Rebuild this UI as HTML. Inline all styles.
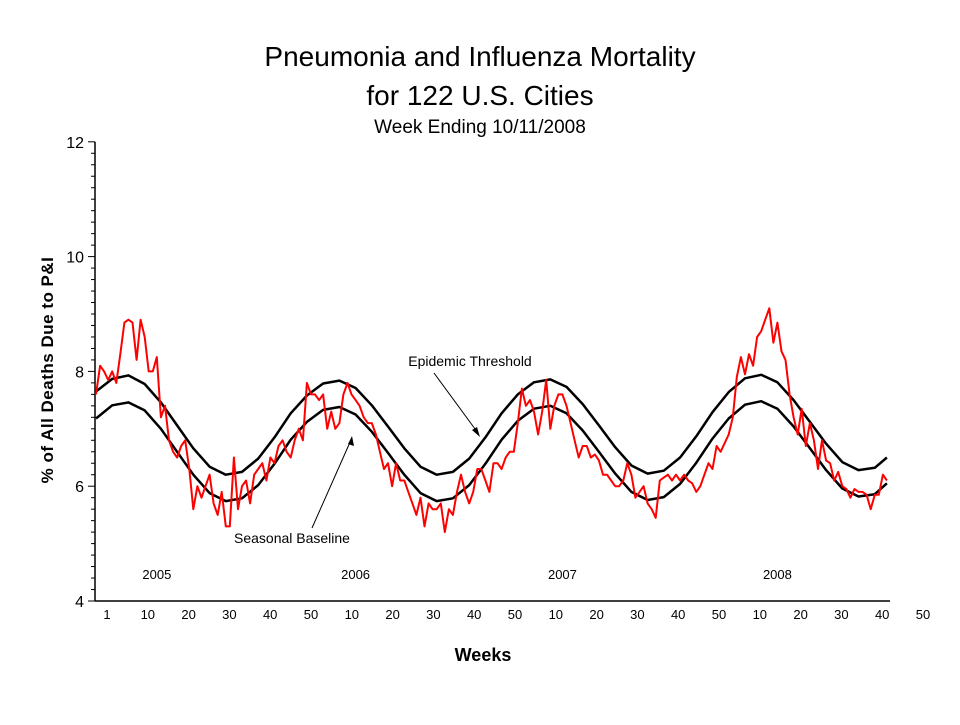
<!DOCTYPE html>
<html><head><meta charset="utf-8"><style>
body{margin:0;background:#fff;}
svg text{font-family:"Liberation Sans",Arial,sans-serif;}
</style></head><body>
<svg id="chart" width="960" height="720" xmlns="http://www.w3.org/2000/svg">
<rect width="960" height="720" fill="#fff"/>
<text x="480" y="66" font-size="28" text-anchor="middle">Pneumonia and Influenza Mortality</text>
<text x="480" y="105" font-size="28" text-anchor="middle">for 122 U.S. Cities</text>
<text x="480" y="133" font-size="19" text-anchor="middle">Week Ending 10/11/2008</text>
<text transform="translate(53,370) rotate(-90)" font-size="17" font-weight="bold" text-anchor="middle" letter-spacing="0.5">% of All Deaths Due to P&amp;I</text>
<text x="483" y="661" font-size="18" font-weight="bold" text-anchor="middle">Weeks</text>
<g id="axes"></g>
<g id="series"></g>
<text x="470" y="366" font-size="14" text-anchor="middle">Epidemic Threshold</text>
<line x1="434" y1="373" x2="478" y2="433" stroke="#000" stroke-width="1"/>
<polygon points="480,437 472,430 477,427" fill="#000"/>
<text x="292" y="543" font-size="14" text-anchor="middle">Seasonal Baseline</text>
<line x1="312" y1="528" x2="351" y2="440" stroke="#000" stroke-width="1"/>
<polygon points="352,436 354,446 348,444" fill="#000"/>
</svg>
<script>
const yTicks = [4, 6, 8, 10, 12];
const xTickLabels = ["1","10","20","30","40","50","10","20","30","40","50","10","20","30","40","50","10","20","30","40","50"];
const yearLabels = ["2005","2006","2007","2008"];
const yearLabelWeek = [15, 64, 115, 168];
const pi = [
7.6,8.1,8.0,7.85,8.0,7.8,8.3,8.85,8.9,8.85,8.2,8.9,8.6,8.0,8.0,8.25,7.2,7.4,6.8,6.6,6.5,6.7,6.8,6.3,5.6,6.0,5.8,6.0,6.2,5.7,5.5,5.9,5.3,5.3,6.5,5.6,6.0,6.1,5.7,6.2,6.3,6.4,6.1,6.5,6.4,6.7,6.8,6.6,6.5,6.8,7.0,6.8,
7.8,7.6,7.6,7.5,7.6,7.0,7.3,7.0,7.1,7.6,7.8,7.6,7.5,7.4,7.2,7.1,7.1,6.9,6.6,6.3,6.4,6.0,6.4,6.1,6.1,5.9,5.7,5.5,5.8,5.3,5.7,5.6,5.6,5.7,5.2,5.6,5.5,5.9,6.2,5.9,5.7,5.9,6.3,6.3,6.1,5.9,6.4,6.4,6.3,6.5,6.6,6.6,
7.1,7.7,7.4,7.5,7.3,6.9,7.3,7.85,7.0,7.4,7.6,7.6,7.4,7.1,6.8,6.5,6.7,6.7,6.5,6.55,6.45,6.2,6.2,6.1,6.0,6.0,6.1,6.4,6.2,5.8,5.9,6.0,5.7,5.6,5.45,6.1,6.15,6.2,6.1,6.2,6.1,6.2,6.1,6.05,5.9,6.0,6.2,6.4,6.3,6.7,6.6,6.75,
6.9,7.2,7.9,8.25,7.95,8.3,8.1,8.6,8.7,8.9,9.1,8.5,8.85,8.35,8.2,7.6,7.2,6.9,7.35,6.7,7.1,6.8,6.3,6.8,6.45,6.4,6.1,6.25,6.0,5.95,5.8,5.95,5.9,5.9,5.85,5.6,5.85,5.85,6.2,6.1];
const baseWeeks = [0,4,8,12,16,20,24,28,32,36,40,44,48,52,56,60,64,68,72,76,80,84,88,92,96,100,104,108,112,116,120,124,128,132,136,140,144,148,152,156,160,164,168,172,176,180,184,188,192,195];
const baseline = [7.18,7.41,7.46,7.32,7.00,6.6,6.2,5.88,5.74,5.79,6.02,6.39,6.81,
7.12,7.33,7.38,7.25,6.95,6.58,6.2,5.88,5.74,5.79,6.02,6.39,6.81,
7.14,7.35,7.40,7.27,6.97,6.6,6.22,5.9,5.76,5.81,6.04,6.41,6.83,
7.18,7.42,7.48,7.35,7.04,6.66,6.28,5.96,5.82,5.86,6.05];
const threshold = [7.65,7.87,7.93,7.78,7.46,7.06,6.66,6.34,6.2,6.25,6.48,6.85,7.27,
7.58,7.79,7.84,7.71,7.41,7.04,6.66,6.34,6.2,6.25,6.48,6.85,7.27,
7.6,7.81,7.86,7.73,7.43,7.06,6.68,6.36,6.22,6.27,6.5,6.87,7.29,
7.64,7.88,7.94,7.81,7.5,7.12,6.74,6.42,6.28,6.32,6.5];

const NS = "http://www.w3.org/2000/svg";
const X0 = 96, XSTEP = 4.056, Y4 = 601, YUNIT = 57.4;
function xs(w){ return X0 + w * XSTEP; }
function ys(v){ return Y4 - (v - 4) * YUNIT; }
function mk(tag, attrs, parent){
  const e = document.createElementNS(NS, tag);
  for (const k in attrs) e.setAttribute(k, attrs[k]);
  parent.appendChild(e);
  return e;
}
const axes = document.getElementById("axes");
const series = document.getElementById("series");

const yAxis = mk("line", {x1:95, y1:ys(12), x2:95, y2:Y4, stroke:"#000", "stroke-width":1.5}, axes);


const xAxis = mk("line", {x1:95, y1:Y4, x2:890, y2:Y4, stroke:"#000", "stroke-width":1.5}, axes);



for (let v = 4; v <= 12.001; v += 0.2) {
  const major = Math.abs(v - Math.round(v)) < 0.01 && Math.round(v) % 2 === 0;
  const t = mk("line", {x1: major ? 88 : 91, y1: ys(v), x2: 95, y2: ys(v), stroke:"#000", "stroke-width":1}, axes);
  
  
}
yTicks.forEach(v => {
  const t = mk("text", {x: 84, y: ys(v) + 6, "font-size": 16, "text-anchor": "end"}, axes);
  t.textContent = v;
  
  
});
xTickLabels.forEach((s, k) => {
  const t = mk("text", {x: 107 + k * 40.8, y: 619, "font-size": 13, "text-anchor": "middle"}, axes);
  t.textContent = s;
  
  
});
yearLabels.forEach((s, k) => {
  const t = mk("text", {x: xs(yearLabelWeek[k]), y: 579, "font-size": 13, "text-anchor": "middle"}, axes);
  t.textContent = s;
  
  
});

function linePath(weeks, vals){
  return vals.map((v, i) => (i ? "L" : "M") + xs(weeks[i]).toFixed(1) + "," + ys(v).toFixed(1)).join(" ");
}
const thr = mk("path", {d: linePath(baseWeeks, threshold), fill:"none", stroke:"#000", "stroke-width":2.5, "stroke-linejoin":"round"}, series);


const base = mk("path", {d: linePath(baseWeeks, baseline), fill:"none", stroke:"#000", "stroke-width":2.5, "stroke-linejoin":"round"}, series);


const piWeeks = pi.map((_, i) => i);
const obs = mk("path", {d: linePath(piWeeks, pi), fill:"none", stroke:"#ff0000", "stroke-width":2, "stroke-linejoin":"round"}, series);


</script>
</body></html>
